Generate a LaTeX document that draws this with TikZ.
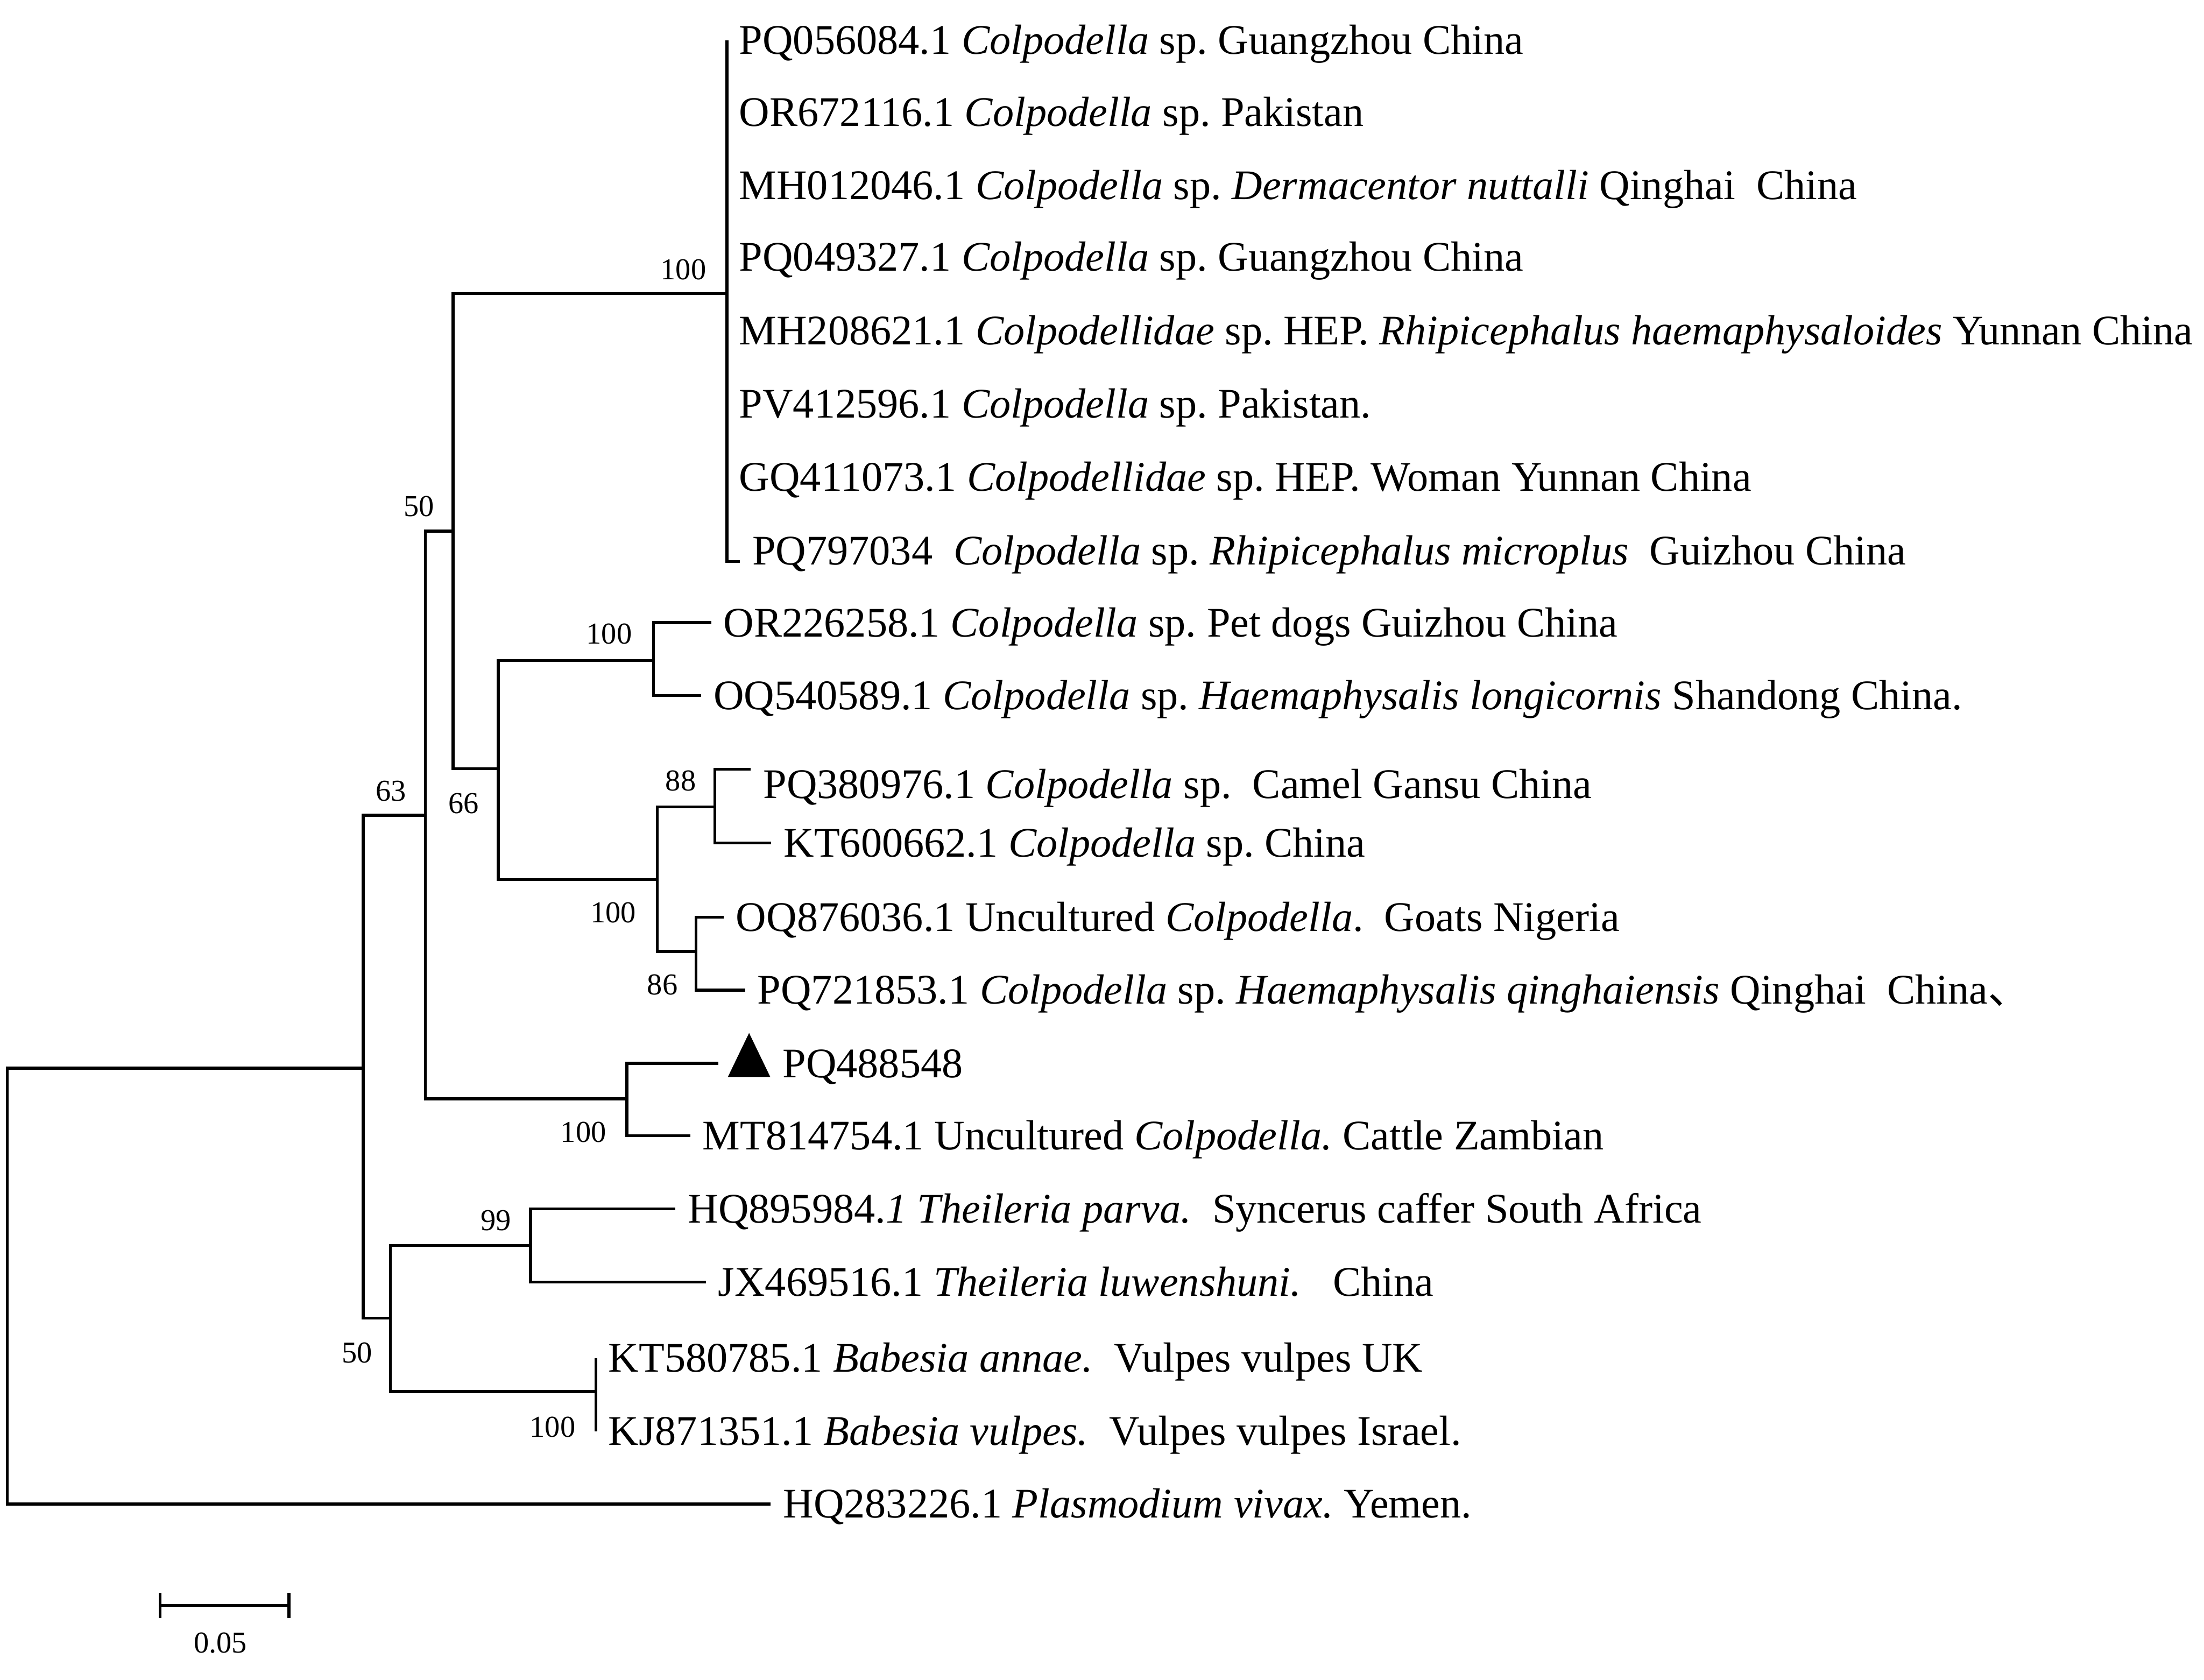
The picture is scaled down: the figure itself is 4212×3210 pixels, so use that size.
\documentclass[tikz,border=0pt]{standalone}
\usepackage{fontspec}
\setmainfont{Liberation Serif}
\newfontfamily\cjk{Noto Sans CJK SC}
\usetikzlibrary{positioning}
\frenchspacing

\begin{document}
\begin{tikzpicture}[
  x=0.01cm, y=-0.01cm,
  branch/.style={line width=1.6pt},
  leaf/.style={anchor=west, inner xsep=0.23cm, inner ysep=0pt, text height=15.2pt, text depth=0pt, font=\fontsize{22.9}{27}\selectfont},
  boot/.style={inner sep=0pt, font=\fontsize{16.5}{19}\selectfont},
  marker/.style={inner sep=0pt, outer sep=0pt, minimum width=0.81cm, minimum height=0.84cm, anchor=south west}
]
\useasboundingbox (0,0) rectangle (4212,3210);

% internal nodes
\coordinate (root) at (14,2457);
\coordinate (nApi) at (694,2041);
\coordinate (nColp) at (813,1558);
\coordinate (nCore) at (866,1015);
\coordinate (cladeA) at (1389,561);
\coordinate (n66) at (952,1469);
\coordinate (nDog) at (1249,1262);
\coordinate (nMix) at (1256,1681);
\coordinate (n88) at (1366,1542);
\coordinate (n86) at (1330,1818);
\coordinate (nTri) at (1198,2100);
\coordinate (nPiro) at (746,2519);
\coordinate (n99) at (1014,2380);
\coordinate (nBab) at (1139,2659);

% leaves
\node[leaf] (pq056084) at (1389,77) {PQ056084.1 \textit{Colpodella} sp. Guangzhou China};
\node[leaf] (or672116) at (1389,214) {OR672116.1 \textit{Colpodella} sp. Pakistan};
\node[leaf] (mh012046) at (1389,354) {MH012046.1 \textit{Colpodella} sp. \textit{Dermacentor nuttalli} Qinghai\ \ China};
\node[leaf] (pq049327) at (1389,491) {PQ049327.1 \textit{Colpodella} sp. Guangzhou China};
\node[leaf] (mh208621) at (1389,632) {MH208621.1 \textit{Colpodellidae} sp. HEP. \textit{Rhipicephalus haemaphysaloides} Yunnan China};
\node[leaf] (pv412596) at (1389,772) {PV412596.1 \textit{Colpodella} sp. Pakistan.};
\node[leaf] (gq411073) at (1389,912) {GQ411073.1 \textit{Colpodellidae} sp. HEP. Woman Yunnan China};
\node[leaf] (pq797034) at (1414,1053) {PQ797034\ \ \textit{Colpodella} sp. \textit{Rhipicephalus microplus}\ \ Guizhou China};
\node[leaf] (or226258) at (1359,1190) {OR226258.1 \textit{Colpodella} sp. Pet dogs Guizhou China};
\node[leaf] (oq540589) at (1340,1329) {OQ540589.1 \textit{Colpodella} sp. \textit{Haemaphysalis longicornis} Shandong China.};
\node[leaf] (pq380976) at (1435,1499) {PQ380976.1 \textit{Colpodella} sp.\ \ Camel Gansu China};
\node[leaf] (kt600662) at (1474,1611) {KT600662.1 \textit{Colpodella} sp. China};
\node[leaf] (oq876036) at (1383,1753) {OQ876036.1 Uncultured \textit{Colpodella}.\ \ Goats Nigeria};
\node[leaf] (pq721853) at (1424,1892) {PQ721853.1 \textit{Colpodella} sp. \textit{Haemaphysalis qinghaiensis} Qinghai\ \ China{\cjk 、}};
\coordinate (pq488548end) at (1373,2032);
\node[marker] (mark) at (1391,2058) {};
\node[leaf] (pq488548) at (1472,2032) {PQ488548};
\node[leaf] (mt814754) at (1319,2170) {MT814754.1 Uncultured \textit{Colpodella.} Cattle Zambian};
\node[leaf] (hq895984) at (1291,2310) {HQ895984.\textit{1 Theileria parva.}\ \ Syncerus caffer South Africa};
\node[leaf] (jx469516) at (1349,2450) {JX469516.1 \textit{Theileria luwenshuni.}\ \ \ China};
\node[leaf] (kt580785) at (1139,2595) {KT580785.1 \textit{Babesia annae.}\ \ Vulpes vulpes UK};
\node[leaf] (kj871351) at (1139,2735) {KJ871351.1 \textit{Babesia vulpes.}\ \ Vulpes vulpes Israel.};
\node[leaf] (hq283226) at (1473,2874) {HQ283226.1 \textit{Plasmodium vivax.} Yemen.};

% bootstrap values
\node[boot] (b100a) at (1306,515) {100};
\node[boot] (b50a) at (801,968) {50};
\node[boot] (b63) at (747,1512) {63};
\node[boot] (b66) at (886,1535) {66};
\node[boot] (b100b) at (1164,1211) {100};
\node[boot] (b88) at (1301,1492) {88};
\node[boot] (b100c) at (1172,1744) {100};
\node[boot] (b86) at (1266,1882) {86};
\node[boot] (b100d) at (1115,2164) {100};
\node[boot] (b99) at (948,2332) {99};
\node[boot] (b50b) at (682,2585) {50};
\node[boot] (b100e) at (1056,2727) {100};

% branches
\draw[branch] (root) |- (nApi);
\draw[branch] (root) |- (hq283226);
\draw[branch] (nApi) |- (nColp);
\draw[branch] (nApi) |- (nPiro);
\draw[branch] (nColp) |- (nCore);
\draw[branch] (nColp) |- (nTri);
\draw[branch] (nCore) |- (cladeA);
\draw[branch] (nCore) |- (n66);
\draw[branch] (cladeA) |- (pq056084);
\draw[branch] (cladeA) |- (or672116);
\draw[branch] (cladeA) |- (mh012046);
\draw[branch] (cladeA) |- (pq049327);
\draw[branch] (cladeA) |- (mh208621);
\draw[branch] (cladeA) |- (pv412596);
\draw[branch] (cladeA) |- (gq411073);
\draw[branch] (cladeA) |- ([yshift=-0.2cm]pq797034.west);
\draw[branch] (n66) |- (nDog);
\draw[branch] (n66) |- (nMix);
\draw[branch] (nDog) |- (or226258);
\draw[branch] (nDog) |- (oq540589);
\draw[branch] (nMix) |- (n88);
\draw[branch] (nMix) |- (n86);
\draw[branch] (n88) |- ([yshift=0.29cm]pq380976.west);
\draw[branch] (n88) |- (kt600662);
\draw[branch] (n86) |- (oq876036);
\draw[branch] (n86) |- (pq721853);
\draw[branch] (nTri) |- (pq488548end);
\draw[branch] (nTri) |- (mt814754);
\draw[branch] (nPiro) |- (n99);
\draw[branch] (nPiro) |- (nBab);
\draw[branch] (n99) |- (hq895984);
\draw[branch] (n99) |- (jx469516);
\draw[branch] (nBab) |- (kt580785);
\draw[branch] (nBab) |- (kj871351);

% marker for the new sequence
\fill (mark.south west) -- (mark.south east) -- (mark.north) -- cycle;

% scale bar
\coordinate (barL) at (306,3068);
\coordinate (barR) at (552,3068);
\draw[branch] (barL) -- (barR);
\draw[branch] ([yshift=0.24cm]barL) -- ([yshift=-0.24cm]barL);
\draw[branch] ([yshift=0.24cm]barR) -- ([yshift=-0.24cm]barR);
\node[boot] (barlabel) at (421,3140) {0.05};
\end{tikzpicture}
\end{document}
